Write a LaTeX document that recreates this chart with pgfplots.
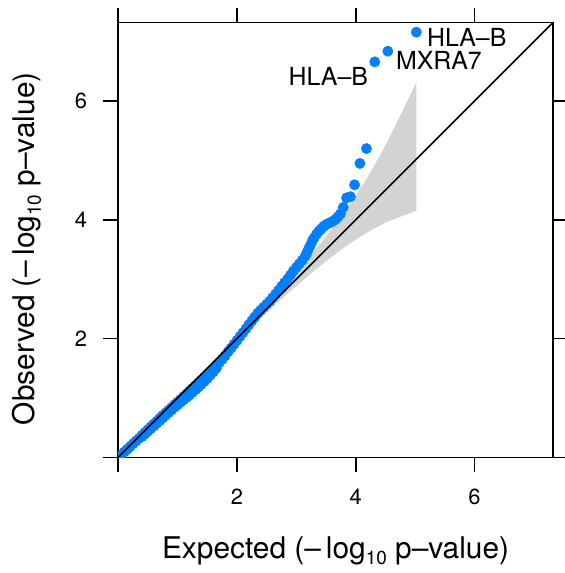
\documentclass[border=0pt]{standalone}
\usepackage{fontspec}
\setmainfont{TeX Gyre Heros}
\usepackage{pgfplots}
\pgfplotsset{compat=1.18}
\definecolor{ptblue}{RGB}{0,128,255}
\definecolor{bandgray}{RGB}{211,211,211}
\newcommand{\lgten}{log\raisebox{-6.5bp}{\fontsize{19}{19}\selectfont 10}}
\begin{document}
\begin{tikzpicture}
\begin{axis}[
  scale only axis, width=435bp, height=435bp,
  xmin=0, xmax=7.32, ymin=0, ymax=7.32,
  clip marker paths=true,
  xtick={0,2,4,6}, ytick={0,2,4,6},
  xticklabels={,2,4,6}, yticklabels={,2,4,6},
  tick align=outside, major tick length=15bp,
  tick style={black, line width=1.6bp},
  axis line style={line width=1.6bp},
  ticklabel style={font=\fontsize{22}{26}\selectfont, inner sep=0pt},
  xticklabel style={yshift=-16bp},
  yticklabel style={xshift=-16bp},
  xlabel={Expected (–\kern5bp\lgten{} p–value)},
  ylabel={Observed (–\kern5bp\lgten{} p–value)},
  label style={font=\fontsize{30}{36}\selectfont},
  xlabel style={at={(axis description cs:0.5,-0.232)}, anchor=base},
  ylabel style={at={(axis description cs:-0.193,0.48)}, anchor=base},
]
% 95% confidence band
\addplot[fill=bandgray, draw=none] coordinates {
  (5.021,6.317) (4.544,5.336) (4.322,4.929) (4.176,4.683) (4.067,4.510)
  (3.907,4.271) (3.742,4.039) (3.559,3.796) (3.430,3.633) (3.250,3.414)
  (3.025,3.151) (2.878,2.983) (2.722,2.810) (2.420,2.481) (2.244,2.294)
  (2.022,2.060) (1.720,1.747)
  (1.720,1.694) (2.022,1.984) (2.244,2.195) (2.420,2.361) (2.722,2.639)
  (2.878,2.779) (3.025,2.909) (3.250,3.100) (3.430,3.248) (3.559,3.349)
  (3.742,3.487) (3.907,3.604) (4.067,3.710) (4.176,3.777) (4.322,3.861)
  (4.544,3.974) (5.021,4.153)
} -- cycle;
% observed vs expected
\addplot[only marks, mark=*, mark size=5.2bp, color=ptblue, mark options={draw=none, fill=ptblue}] coordinates {
  (0.00,0.00) (0.05,0.04) (0.10,0.09) (0.15,0.135) (0.20,0.18) (0.25,0.23)
  (0.30,0.275) (0.35,0.32) (0.40,0.37) (0.45,0.42) (0.50,0.465) (0.55,0.515)
  (0.60,0.563) (0.65,0.61) (0.70,0.658) (0.75,0.705) (0.80,0.75) (0.85,0.795)
  (0.90,0.84) (0.95,0.888) (1.00,0.93) (1.05,0.975) (1.10,1.022) (1.15,1.068)
  (1.20,1.115) (1.25,1.162) (1.30,1.21) (1.35,1.255) (1.40,1.30) (1.45,1.347)
  (1.50,1.394) (1.55,1.441) (1.60,1.49) (1.65,1.54) (1.70,1.595) (1.75,1.65)
  (1.80,1.71) (1.85,1.78) (1.90,1.84) (1.95,1.905) (2.00,1.97) (2.05,2.035)
  (2.10,2.10) (2.15,2.165) (2.20,2.235) (2.25,2.30) (2.30,2.365) (2.35,2.43)
  (2.40,2.48) (2.45,2.53) (2.50,2.58) (2.55,2.63) (2.60,2.69) (2.65,2.75)
  (2.70,2.81) (2.75,2.88) (2.80,2.94) (2.85,3.00) (2.90,3.07) (2.95,3.14)
  (3.00,3.20) (3.05,3.26) (3.10,3.32) (3.15,3.39) (3.18,3.45) (3.21,3.52)
  (3.24,3.58) (3.27,3.65) (3.30,3.70) (3.34,3.76) (3.38,3.81) (3.42,3.85)
  (3.46,3.89) (3.50,3.92) (3.54,3.94) (3.58,3.96) (3.62,3.98) (3.66,4.01)
  (3.70,4.05) (3.742,4.10) (3.79,4.21) (3.845,4.37) (3.91,4.39) (3.98,4.59)
  (4.07,4.95) (4.18,5.20) (4.32,6.66) (4.54,6.84) (5.02,7.16)
  (0.40,0.35) (0.45,0.395) (0.50,0.44) (0.55,0.485) (0.60,0.53) (0.65,0.575)
  (0.70,0.62) (0.75,0.665) (0.80,0.71) (0.85,0.755)
  (0.90,0.80) (0.95,0.845) (1.00,0.885) (1.05,0.93) (1.10,0.97) (1.15,1.01)
  (1.20,1.05) (1.25,1.095) (1.30,1.14) (1.35,1.185) (1.40,1.23) (1.45,1.28)
  (1.50,1.33) (1.55,1.385) (1.60,1.44) (1.65,1.50)
};
% identity line
\addplot[black, line width=1.6bp] coordinates {(0,0) (7.32,7.32)};
\node[anchor=west, inner sep=0pt, xshift=10.7bp, yshift=-5.7bp, font=\fontsize{25}{30}\selectfont] at (axis cs:5.02,7.16) {HLA–B};
\node[anchor=west, inner sep=0pt, xshift=8bp, yshift=-9bp, font=\fontsize{25}{30}\selectfont] at (axis cs:4.54,6.84) {MXRA7};
\node[anchor=east, inner sep=0pt, xshift=-6.6bp, yshift=-15bp, font=\fontsize{25}{30}\selectfont] at (axis cs:4.32,6.66) {HLA–B};
\end{axis}
\pgfresetboundingbox
\path ([xshift=-118.3bp,yshift=-115.7bp]current axis.south west) rectangle ([xshift=11.7bp,yshift=22.7bp]current axis.north east);
\end{tikzpicture}
\end{document}
